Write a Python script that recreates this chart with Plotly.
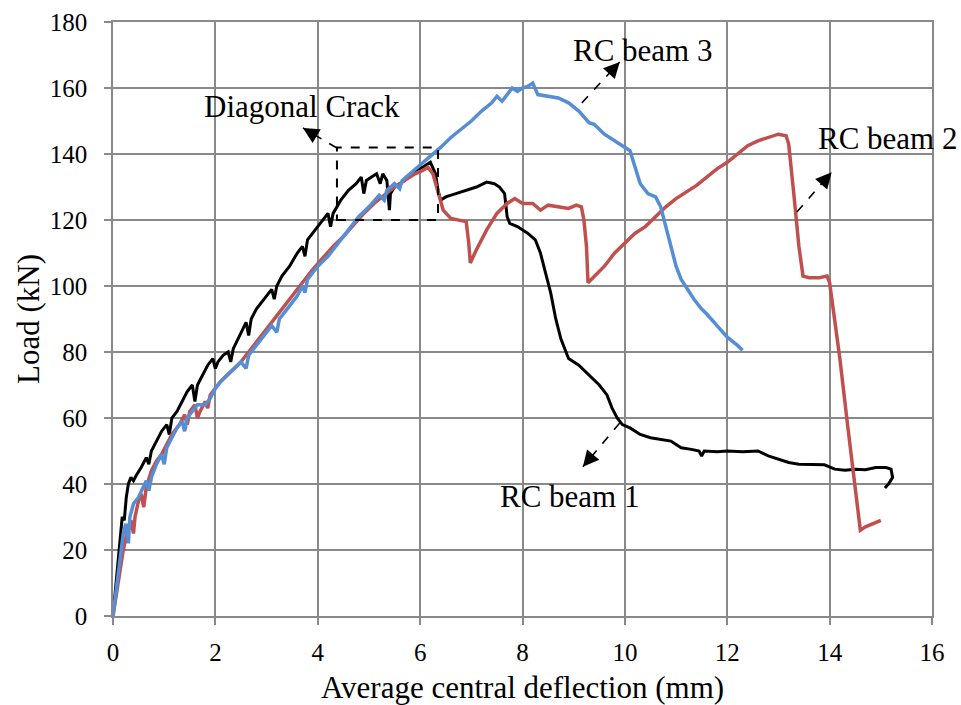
import plotly.graph_objects as go

# ---------------- data ----------------
beam1_x = [0, 0.1, 0.18, 0.22, 0.26, 0.3, 0.35, 0.4, 0.45, 0.55, 0.65, 0.7, 0.75, 0.85, 0.95, 1.05, 1.1, 1.15,
           1.25, 1.35, 1.45, 1.55, 1.6, 1.65, 1.75, 1.85, 1.95, 2.0, 2.05, 2.15, 2.25, 2.3, 2.35, 2.5, 2.6, 2.65,
           2.7, 2.8, 2.9, 3.0, 3.1, 3.15, 3.2, 3.3, 3.45, 3.6, 3.7, 3.75, 3.8, 3.95, 4.1, 4.2, 4.25, 4.3, 4.45,
           4.6, 4.75, 4.85, 4.9, 4.95, 5.05, 5.15, 5.22, 5.27, 5.35, 5.4, 5.42, 5.5, 5.7, 5.9, 6.05, 6.2, 6.3,
           6.35, 6.4, 6.5, 6.7, 6.9, 7.1, 7.3, 7.45, 7.55, 7.65, 7.7, 7.75, 7.9, 8.1, 8.25, 8.35, 8.45, 8.55,
           8.65, 8.75, 8.85, 8.9, 9.1, 9.3, 9.5, 9.65, 9.75, 9.85, 9.95, 10.1, 10.3, 10.5, 10.7, 10.9, 11.0,
           11.1, 11.3, 11.45, 11.5, 11.55, 11.8, 12.0, 12.3, 12.6, 12.8, 13.0, 13.2, 13.4, 13.7, 13.9, 14.1,
           14.3, 14.5, 14.7, 14.9, 15.1, 15.2, 15.23, 15.15, 15.08]
beam1_y = [0, 18, 30, 29, 36, 40, 42, 41, 42.5, 45, 48, 46, 50, 53, 56, 58, 55, 60,
           62, 65, 68, 70, 65, 70, 73, 76, 78, 75, 77, 79, 80, 77, 81, 86, 89, 85,
           90, 93, 95, 97, 99, 96, 100, 103, 106, 110, 112, 109, 114, 117, 120, 122, 118, 122, 126,
           129, 131, 133, 128, 132, 133, 134, 131, 134, 132, 123, 128, 130, 132, 135, 136, 137.5, 134,
           129, 126, 127, 128, 129, 130, 131.5, 131, 130, 128, 121, 119, 118, 116, 114, 110, 104, 98,
           90, 84, 80, 78, 76, 73, 70, 67, 63, 60, 58, 57, 55, 54, 53.5, 53, 52,
           51, 50.5, 50, 48.5, 50, 49.8, 50, 49.8, 50, 48.5, 47.5, 46.5, 46, 46, 45.8, 44.5,
           44.2, 44.5, 44.3, 45, 45, 44.5, 42, 40, 38.8]

beam2_x = [0, 0.1, 0.2, 0.3, 0.35, 0.4, 0.43, 0.5, 0.55, 0.6, 0.65, 0.75, 0.85, 0.95, 1.05, 1.15, 1.3, 1.4,
           1.45, 1.5, 1.6, 1.65, 1.7, 1.8, 1.85, 1.9, 2.0, 2.1, 2.3, 2.5, 2.7, 2.9, 3.1, 3.3, 3.5, 3.7, 3.9,
           4.1, 4.3, 4.5, 4.7, 4.9, 5.1, 5.3, 5.5, 5.7, 5.9, 6.05, 6.15, 6.25, 6.35, 6.45, 6.6, 6.75, 6.9,
           6.95, 6.98, 7.1, 7.3, 7.5, 7.7, 7.85, 8.0, 8.2, 8.35, 8.5, 8.7, 8.9, 9.05, 9.15, 9.2, 9.25, 9.28,
           9.4, 9.6, 9.8, 10.0, 10.2, 10.4, 10.6, 10.8, 11.0, 11.2, 11.4, 11.6, 11.8, 12.0, 12.2, 12.4, 12.6,
           12.8, 13.0, 13.15, 13.2, 13.3, 13.4, 13.48, 13.6, 13.8, 13.95, 14.0, 14.1, 14.2, 14.35, 14.5, 14.6,
           14.7, 14.85, 15.0]
beam2_y = [0, 10, 20, 27, 29, 25, 30, 35, 37, 33, 39, 44, 47, 49, 52, 55, 58, 61,
           58, 62, 64, 60, 62, 65, 63, 67, 69, 71, 74, 77, 81, 85, 89, 93, 97, 101, 105,
           108.5, 112, 115, 118.5, 122, 125, 127.5, 130, 132, 134, 135, 136, 134, 128, 123, 120.5, 120, 119.5,
           113, 107, 111, 117, 122, 125, 126.5, 125, 125, 123, 124.5, 124, 123.5, 124.5, 124, 120, 112, 101,
           103, 106, 110, 113, 116, 118, 121, 124, 126.5, 128.5, 130.5, 133, 135.5, 137.5, 140, 142.5, 144,
           145, 146, 145.5, 143, 128, 112, 103, 102.5, 102.5, 103, 101, 90, 78, 58, 40, 26,
           27, 28, 29]

beam3_x = [0, 0.1, 0.2, 0.25, 0.3, 0.33, 0.4, 0.5, 0.6, 0.65, 0.7, 0.75, 0.85, 0.95, 1.0, 1.05, 1.15, 1.25,
           1.35, 1.4, 1.45, 1.55, 1.65, 1.8, 1.9, 2.0, 2.1, 2.3, 2.5, 2.6, 2.65, 2.8, 2.95, 3.1, 3.2, 3.25,
           3.4, 3.6, 3.7, 3.75, 3.8, 4.0, 4.2, 4.4, 4.6, 4.8, 5.0, 5.2, 5.3, 5.35, 5.5, 5.6, 5.65, 5.8, 6.0,
           6.2, 6.4, 6.6, 6.8, 7.0, 7.2, 7.4, 7.5, 7.6, 7.7, 7.8, 7.9, 8.0, 8.1, 8.2, 8.3, 8.5, 8.7, 8.9,
           9.1, 9.3, 9.4, 9.6, 9.8, 10.0, 10.1, 10.2, 10.3, 10.45, 10.6, 10.7, 10.8, 10.9, 11.0, 11.1, 11.2,
           11.35, 11.5, 11.6, 11.8, 12.0, 12.2, 12.3]
beam3_y = [0, 12, 25, 28, 22, 30, 34, 36, 39, 41, 38, 42, 46, 49, 46, 51, 54, 57,
           59, 56, 60, 62, 64, 64, 66, 69, 71, 74, 77, 75, 79, 82, 85, 88, 86, 90,
           93, 97, 100, 98, 102, 106, 109, 113, 117, 121, 124, 127.5, 126, 129, 131, 129.5, 132, 134, 136.5,
           139, 142, 145, 147.5, 150, 153, 155.5, 157.5, 156, 158, 160, 159, 160, 160.5, 161.5, 158, 157.5, 157, 155.5,
           153, 149.5, 149, 146, 144, 142, 141, 136, 131, 128, 127, 124, 118, 111, 106, 102, 99.5,
           96, 93, 91.5, 88, 84.5, 82, 80.5]

x_ticks = [0, 2, 4, 6, 8, 10, 12, 14, 16]
y_ticks = [0, 20, 40, 60, 80, 100, 120, 140, 160, 180]

crack_box = dict(x0=4.375, x1=6.35, y0=120, y1=142)

# label text, text centre, arrow tail, arrow head (data units)
labels = [
    ("Diagonal Crack", (3.69, 154.5), (4.375, 141.8), (3.71, 147.9)),
    ("RC beam 3", (10.35, 171.5), (9.16, 155.5), (9.90, 167.9)),
    ("RC beam 2", (15.14, 144.8), (13.36, 122.4), (14.04, 134.5)),
    ("RC beam 1", (8.93, 36.1), (9.90, 58.5), (9.18, 45.2)),
]

# ---------------- figure ----------------
FONT = "Liberation Serif"
GRID = "#898989"

fig = go.Figure()
fig.add_trace(go.Scatter(x=beam1_x, y=beam1_y, mode="lines", name="RC beam 1",
                         line=dict(color="#000000", width=3)))
fig.add_trace(go.Scatter(x=beam2_x, y=beam2_y, mode="lines", name="RC beam 2",
                         line=dict(color="#C0504D", width=3.5)))
fig.add_trace(go.Scatter(x=beam3_x, y=beam3_y, mode="lines", name="RC beam 3",
                         line=dict(color="#558ED5", width=3.5)))

fig.add_shape(type="rect", xref="x", yref="y", line=dict(color="black", width=2, dash="dash"),
              **crack_box)

# pixels per data unit for the arrow-head offsets
PX_X = 819 / 16.0
PX_Y = 594 / 180.0

for text, (tx, ty), (x0, y0), (x1, y1) in labels:
    fig.add_annotation(x=tx, y=ty, text=text, showarrow=False, xref="x", yref="y",
                       font=dict(family=FONT, size=31, color="black"))
    fig.add_shape(type="line", xref="x", yref="y", x0=x0, y0=y0, x1=x1, y1=y1,
                  line=dict(color="black", width=1.6, dash="dash"))
    dxp = (x1 - x0) * PX_X
    dyp = (y1 - y0) * PX_Y
    L = (dxp ** 2 + dyp ** 2) ** 0.5
    fig.add_annotation(x=x1, y=y1, ax=-dxp / L * 8, ay=dyp / L * 8, axref="pixel", ayref="pixel",
                       xref="x", yref="y", text="", showarrow=True, arrowhead=2, arrowsize=1.6,
                       arrowwidth=2, arrowcolor="black")

# axis titles
fig.add_annotation(x=0.5, y=(616 - 688) / 594.0, xref="paper", yref="paper", showarrow=False,
                   text="Average central deflection (mm)", xanchor="center", yanchor="middle",
                   font=dict(family=FONT, size=31, color="black"))
fig.add_annotation(x=(28 - 113) / 819.0, y=0.5, xref="paper", yref="paper", showarrow=False,
                   text="Load (kN)", textangle=-90, xanchor="center", yanchor="middle",
                   font=dict(family=FONT, size=31, color="black"))

fig.update_layout(
    width=961, height=705,
    margin=dict(l=113, r=29, t=22, b=89, autoexpand=False),
    paper_bgcolor="white", plot_bgcolor="white",
    showlegend=False,
    font=dict(family=FONT, size=25, color="black"),
)
fig.update_xaxes(range=[0, 16], tickvals=x_ticks, ticktext=[str(v) for v in x_ticks],
                 showgrid=True, gridcolor=GRID, gridwidth=1.5, automargin=False,
                 showline=True, linecolor=GRID, linewidth=1.5, mirror=True,
                 ticks="outside", ticklen=7, tickcolor=GRID, tickwidth=1.5,
                 zeroline=False, tickfont=dict(family=FONT, size=25, color="black"),
                 ticklabelstandoff=6)
fig.update_yaxes(range=[0, 180], tickvals=y_ticks, ticktext=[str(v) for v in y_ticks],
                 showgrid=True, gridcolor=GRID, gridwidth=1.5, automargin=False,
                 showline=True, linecolor=GRID, linewidth=1.5, mirror=True,
                 ticks="outside", ticklen=7, tickcolor=GRID, tickwidth=1.5,
                 zeroline=False, tickfont=dict(family=FONT, size=25, color="black"),
                 ticklabelstandoff=12)

fig.write_html("out.html", config={"displayModeBar": False},
               post_script="document.body.style.margin='0';")
